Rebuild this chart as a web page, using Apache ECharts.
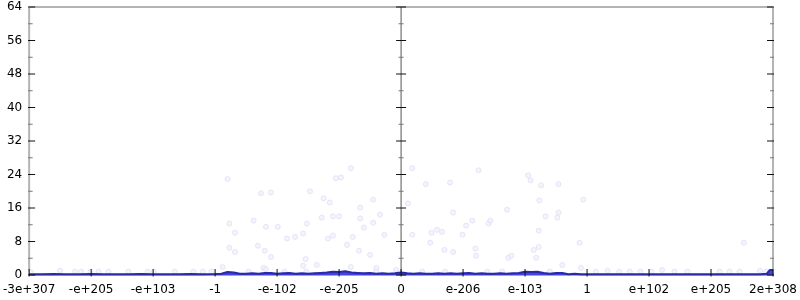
<!DOCTYPE html>
<html><head><meta charset="utf-8">
<script src="https://cdn.jsdelivr.net/npm/echarts@6/dist/echarts.min.js"></script>
<style>html,body{margin:0;padding:0;background:#fff}#c{width:800px;height:300px}</style>
</head><body><div id="c"></div>
<script>
// x tick labels (12 equal steps on a remapped float axis)
var xTickLabels = ['-3e+307','-e+205','-e+103','-1','-e-102','-e-205','0','e-206','e-103','1','e+102','e+205','2e+308'];
var yMajorTicks = [0,8,16,24,32,40,48,56,64];
var yMinorTicks = [4,12,20,28,36,44,52,60];
var verticalAxesAt = [0,6,12];
// density line: x positions (tick-index units) and values
var lineX = [0,0.2,0.4,0.6,0.8,1.0,1.2,1.4,1.6,1.8,2.0,2.2,2.4,2.6,2.8,3.0,
  3.1,3.2,3.3,3.4,3.5,3.6,3.7,3.8,3.9,4.0,4.1,4.2,4.3,4.4,4.5,4.6,4.7,4.8,4.9,5.0,
  5.1,5.2,5.3,5.4,5.5,5.6,5.7,5.8,5.9,6.0,6.1,6.2,6.3,6.4,6.5,6.6,6.7,6.8,6.9,7.0,
  7.1,7.2,7.3,7.4,7.5,7.6,7.7,7.8,7.9,8.0,8.1,8.2,8.3,8.4,8.5,8.6,8.7,8.8,8.9,9.0,
  9.4,9.8,10.2,10.6,11.0,11.4,11.8,11.9,11.95,12.0];
var lineY = [0.2,0.2,0.25,0.2,0.2,0.25,0.2,0.2,0.2,0.25,0.2,0.2,0.2,0.25,0.2,0.25,
  0.3,0.7,0.6,0.3,0.3,0.4,0.3,0.5,0.5,0.3,0.4,0.5,0.3,0.4,0.3,0.4,0.5,0.6,0.8,0.7,
  0.9,0.6,0.5,0.4,0.5,0.3,0.4,0.3,0.4,0.6,0.4,0.3,0.4,0.3,0.3,0.4,0.3,0.4,0.3,0.4,
  0.5,0.3,0.4,0.3,0.3,0.4,0.3,0.4,0.5,0.8,0.7,0.8,0.5,0.3,0.5,0.5,0.2,0.3,0.2,0.2,
  0.2,0.2,0.2,0.2,0.2,0.2,0.2,0.3,1.2,1.2];
// faint sample points
var pointX = [3.20,5.19,4.95,5.03,3.74,3.90,4.53,4.75,4.85,5.55,5.34,3.23,3.62,3.82,4.01,3.32,4.48,4.72,4.90,5.00,
  5.66,5.34,5.40,5.55,4.16,4.29,4.42,4.82,4.90,5.73,5.22,3.23,3.32,3.69,3.80,3.90,5.13,5.32,5.50,4.46,
  3.12,3.78,3.82,4.42,4.64,5.19,5.60,5.92,
  6.18,7.25,8.05,8.09,6.40,6.79,8.26,8.54,6.11,8.23,8.94,6.84,7.71,8.54,8.33,8.52,7.05,7.15,7.41,7.44,
  6.18,6.49,6.58,6.66,6.99,8.22,6.47,8.88,6.70,6.84,7.20,8.14,8.22,7.21,7.73,7.78,8.18,8.60,8.90,11.53,
  0.03,0.50,0.74,0.84,0.99,1.12,1.28,1.60,1.91,2.01,2.35,2.65,2.80,2.94,3.54,4.12,4.47,5.60,
  6.34,6.71,7.39,7.63,8.40,9.14,9.33,9.52,9.69,9.86,10.04,10.21,10.41,10.62,11.14,11.30,11.46,11.79,11.89];
var pointY = [22.9,25.5,23.1,23.3,19.5,19.7,20.0,18.3,17.3,18.0,16.1,12.3,13.0,11.5,11.5,10.1,12.3,13.7,14.0,14.0,
  14.4,13.5,11.3,12.5,8.7,9.1,9.9,8.7,9.4,9.6,9.1,6.5,5.5,7.0,5.8,4.3,7.2,5.8,4.8,3.8,
  1.9,1.7,1.4,2.2,2.4,1.9,1.7,1.2,
  25.5,25.0,23.8,22.6,21.7,22.1,21.4,21.7,17.1,17.8,18.0,14.9,15.6,14.9,14.0,13.7,11.8,13.0,12.3,13.0,
  9.6,10.1,10.8,10.3,9.6,10.6,7.7,7.7,6.0,5.5,6.3,6.0,6.7,4.6,4.1,4.6,4.1,2.4,1.7,7.7,
  0.6,1.0,0.8,0.8,0.8,0.8,0.8,0.8,0.8,0.8,0.8,0.8,0.8,0.8,0.8,0.8,0.8,0.8,
  0.8,0.8,0.8,0.8,0.8,0.8,1.0,0.8,0.8,0.8,0.8,1.2,0.8,0.8,0.8,0.8,0.8,1.0,0.8];
var yMin = 0, yMax = 64, yStep = 8, xMin = 0, xMax = 12;

// frame / tick segments as line-series data (lengths converted from pixels via the grid size)
var gridL = 28, gridR = 26, gridT = 7, gridB = 25, W = 800, H = 300;
var pxX = (xMax - xMin) / (W - gridL - gridR), pxY = (yMax - yMin) / (H - gridT - gridB);
var majorSeg = [], minorSeg = [], frameGray = [], frameDark = [];
verticalAxesAt.forEach(function (ax) {
  var center = ax !== xMin && ax !== xMax;
  var maj = ax === xMin ? [-4, 6] : (center ? [-5, 5] : [-6, 5]);
  var mnr = ax === xMin ? [-2, 3.5] : (center ? [-2.5, 2.5] : [-3, 3]);
  (center ? frameDark : frameGray).push([ax, yMin], [ax, yMax], null);
  yMajorTicks.forEach(function (v) { majorSeg.push([ax + maj[0] * pxX, v], [ax + maj[1] * pxX, v], null); });
  yMinorTicks.forEach(function (v) { minorSeg.push([ax + mnr[0] * pxX, v], [ax + mnr[1] * pxX, v], null); });
});
frameGray.push([xMin, yMax], [xMax, yMax], null);
frameDark.push([xMin, yMin], [xMax, yMin], null);
for (var i = 0; i < xTickLabels.length; i++) majorSeg.push([i, yMin - 1.5 * pxY], [i, yMin + 6 * pxY], null);

function segSeries(data, color, width, z) {
  return { type: 'line', data: data, showSymbol: false, symbol: 'none', connectNulls: false, clip: false,
    silent: true, z: z, lineStyle: { color: color, width: width }, animation: false };
}

var font = 'DejaVu Sans';
var chart = echarts.init(document.getElementById('c'), null, { renderer: 'canvas' });
chart.setOption({
  animation: false,
  grid: { left: gridL, right: gridR, top: gridT, bottom: gridB },
  xAxis: { type: 'value', min: xMin, max: xMax, interval: 1,
    axisLine: { show: false }, axisTick: { show: false }, splitLine: { show: false },
    axisLabel: { margin: 9, color: '#000', fontFamily: font, fontSize: 12,
      formatter: function (v) { return xTickLabels[Math.round(v)]; } } },
  yAxis: { type: 'value', min: yMin, max: yMax, interval: yStep,
    axisLine: { show: false }, axisTick: { show: false }, splitLine: { show: false },
    axisLabel: { margin: 7, color: '#000', fontFamily: font, fontSize: 12 } },
  series: [
    segSeries(frameGray, '#b4b4b4', 2, 1),
    segSeries(frameDark, '#555', 1, 1),
    { type: 'scatter', symbolSize: 5, silent: true, z: 2,
      itemStyle: { color: '#f1f1fd', borderColor: '#dedef7', borderWidth: 1 },
      data: pointX.map(function (x, i) { return [x, pointY[i]]; }) },
    { type: 'line', showSymbol: false, smooth: false, silent: true, z: 3,
      lineStyle: { color: '#2a2aa8', width: 2 },
      areaStyle: { color: '#4444e4', opacity: 1 },
      data: lineX.map(function (x, i) { return [x, lineY[i]]; }) },
    segSeries(minorSeg, '#777', 1, 4),
    segSeries(majorSeg, '#111', 1, 5)
  ]
});
</script></body></html>
